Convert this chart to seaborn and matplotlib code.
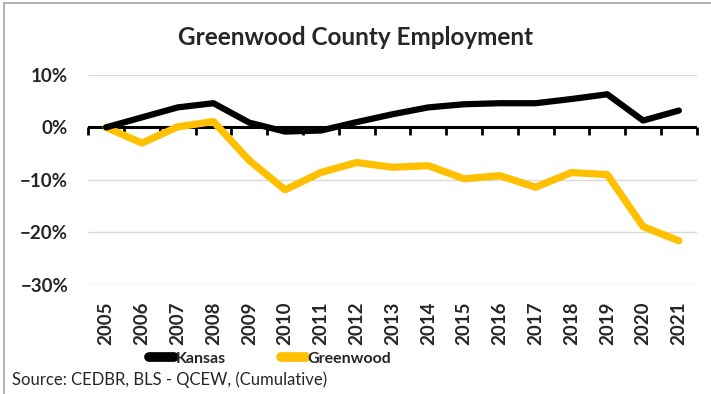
import numpy as np
import pandas as pd
import matplotlib
matplotlib.use("Agg")
import matplotlib.pyplot as plt
import seaborn as sns
from matplotlib.lines import Line2D
from matplotlib.ticker import PercentFormatter

# datos (acumulado, %)
years = [str(y) for y in range(2005, 2022)]
kansas = [0.0, 1.9, 3.8, 4.6, 0.9, -0.8, -0.6, 1.0, 2.5, 3.8, 4.4, 4.6, 4.6, 5.4, 6.3, 1.3, 3.2]
greenwood = [0.0, -3.0, 0.1, 1.1, -6.3, -11.9, -8.6, -6.7, -7.6, -7.3, -9.8, -9.2, -11.4, -8.6, -9.0, -18.9, -21.6]
series_names = ["Kansas", "Greenwood"]
series_colors = ["#000000", "#FFC000"]
y_ticks = [10, 0, -10, -20, -30]

df = pd.DataFrame({"year": years, "Kansas": kansas, "Greenwood": greenwood})
df_long = df.melt(id_vars="year", var_name="serie", value_name="valor")
df_long["pos"] = df_long["year"].map({y: i for i, y in enumerate(years)})

sns.set_style("white")
plt.rcParams["font.family"] = ["Lato", "DejaVu Sans"]

fig = plt.figure(figsize=(7.11, 3.94), dpi=100)
ax = fig.add_axes([0.124, 0.277, 0.856, 0.533])

sns.lineplot(data=df_long, x="pos", y="valor", hue="serie", hue_order=series_names,
             palette=series_colors, linewidth=4.5, ax=ax, legend=False, sort=False)
for ln, lw in zip(ax.get_lines(), [4.5, 5.2]):
    ln.set_linewidth(lw)
    ln.set_solid_capstyle("round")
    ln.set_solid_joinstyle("round")
ax.get_lines()[0].set_zorder(4)
ax.get_lines()[1].set_zorder(3)

ax.set_xlim(-0.5, len(years) - 0.5)
ax.set_ylim(min(y_ticks), max(y_ticks))
ax.set_yticks(y_ticks)
ax.yaxis.set_major_formatter(PercentFormatter(decimals=0))
ax.grid(axis="y", color="#D9D9D9", linewidth=1)
ax.grid(axis="x", visible=False)
for s in ax.spines.values():
    s.set_visible(False)

ax.set_xticks(range(len(years)))
ax.set_xticklabels(years, rotation=90, fontweight="bold", fontsize=13.5)
ax.tick_params(axis="x", length=0, pad=12)
ax.tick_params(axis="y", length=0, pad=14.4, labelsize=13.5)
for t in ax.get_yticklabels():
    t.set_fontweight("bold")
ax.set_xlabel("")
ax.set_ylabel("")

# eje en 0 con marcas entre categorias
ax.axhline(0, color="black", linewidth=2.2, zorder=2)
zero_frac = (0 - min(y_ticks)) / (max(y_ticks) - min(y_ticks))
sec = ax.secondary_xaxis(zero_frac)
sec.set_xticks(np.arange(-0.5, len(years), 1.0))
sec.set_xticklabels([])
sec.tick_params(axis="x", direction="in", length=6, width=2, color="black")
for s in sec.spines.values():
    s.set_visible(False)

fig.text(0.5, 0.905, "Greenwood County Employment", ha="center", va="center",
         fontsize=17.5, fontweight="bold")

handles = [Line2D([], [], color=c, linewidth=7, solid_capstyle="round") for c in series_colors]
fig.legend(handles, series_names, loc="center", bbox_to_anchor=(0.38, 0.09),
           ncol=2, frameon=False, handlelength=1.6, handletextpad=0.1,
           columnspacing=3.4, prop={"size": 11.5, "weight": "bold"})

fig.text(0.017, 0.035, "Source: CEDBR, BLS - QCEW, (Cumulative)", ha="left",
         va="center", fontsize=12)

# borde del grafico
fig.add_artist(Line2D([0.006, 0.006], [0, 0.993], color="#A6A6A6", linewidth=1.2,
                      transform=fig.transFigure))
fig.add_artist(Line2D([0.006, 1], [0.993, 0.993], color="#A6A6A6", linewidth=1.2,
                      transform=fig.transFigure))

fig.savefig("out.png", dpi=100)
